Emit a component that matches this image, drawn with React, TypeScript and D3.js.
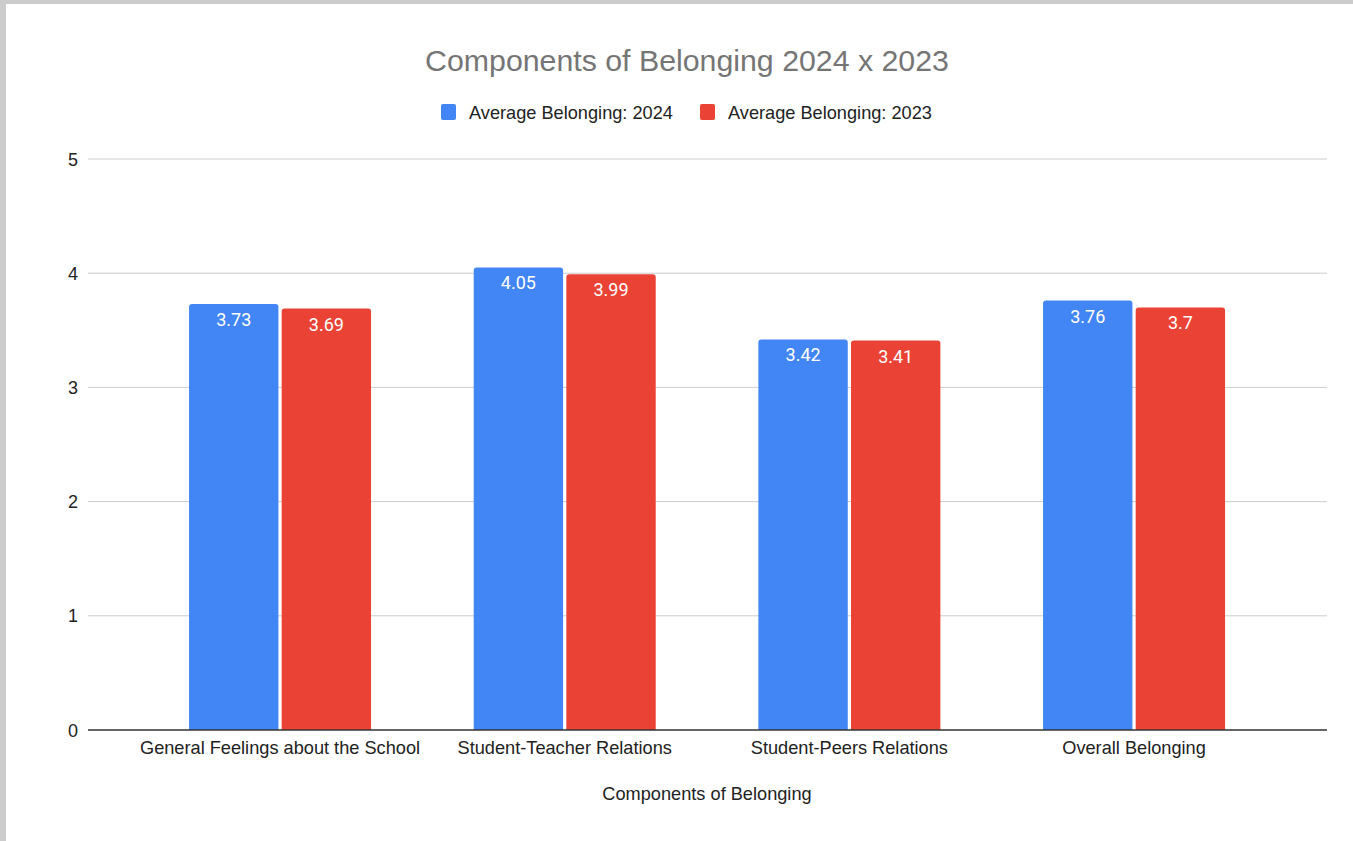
import React from "react";
import * as d3 from "d3";

const categories = [
  "General Feelings about the School",
  "Student-Teacher Relations",
  "Student-Peers Relations",
  "Overall Belonging",
];
const values2024 = [3.73, 4.05, 3.42, 3.76];
const values2023 = [3.69, 3.99, 3.41, 3.7];
const seriesNames = ["Average Belonging: 2024", "Average Belonging: 2023"];
const seriesColors = ["#4285F4", "#EA4335"];
const yTicks = [0, 1, 2, 3, 4, 5];

const W = 1353;
const H = 841;
const plotLeft = 88;
const plotRight = 1327;
const plotTop = 159;
const plotBottom = 730;

export default function App() {
  const y = d3.scaleLinear().domain([0, 5]).range([plotBottom, plotTop]);
  const x = d3.scaleBand<string>().domain(categories).range([137.7, 1276.4]).paddingInner(0).paddingOuter(0);
  const inner = d3.scaleBand<number>().domain([0, 1]).range([0, 182]).paddingInner(0.035);
  const series = [values2024, values2023];
  const bw = inner.bandwidth();
  const arial = "Arial, 'Liberation Sans', sans-serif";

  return (
    <div style={{ position: "absolute", left: 0, top: 0 }}>
      <svg width={W} height={H} style={{ display: "block" }}>
        <rect x={0} y={0} width={W} height={H} fill="#cccccc" />
        <rect x={6} y={4} width={W - 6} height={H - 4} fill="#ffffff" />
        <text x={687} y={71} textAnchor="middle" fontFamily={arial} fontSize={30.3} fill="#757575">
          Components of Belonging 2024 x 2023
        </text>
        {/* legend */}
        {seriesNames.map((n, i) => {
          const lx = i === 0 ? 441 : 700;
          return (
            <g key={n}>
              <rect x={lx} y={104} width={15} height={16} rx={2} fill={seriesColors[i]} />
              <text x={lx + 28} y={118.5} fontFamily={arial} fontSize={18.2} fill="#222222">
                {n}
              </text>
            </g>
          );
        })}
        {/* grid */}
        {yTicks.map((t) => (
          <g key={t}>
            {t > 0 && (
              <line x1={plotLeft} x2={plotRight} y1={y(t)} y2={y(t)} stroke="#cccccc" strokeWidth={1} />
            )}
            <text x={78} y={y(t) + 6.5} textAnchor="end" fontFamily={arial} fontSize={18} fill="#222222">
              {t}
            </text>
          </g>
        ))}
        {/* bars */}
        {categories.map((c, ci) => {
          const cx = (x(c) as number) + x.bandwidth() / 2;
          const gx = cx - 91;
          return (
            <g key={c}>
              {series.map((vals, si) => {
                const v = vals[ci];
                const bx = gx + (inner(si) as number);
                const top = y(v);
                const h = plotBottom - top;
                const r = 3;
                const path = `M${bx},${plotBottom} L${bx},${top + r} Q${bx},${top} ${bx + r},${top} L${bx + bw - r},${top} Q${bx + bw},${top} ${bx + bw},${top + r} L${bx + bw},${plotBottom} Z`;
                return (
                  <g key={si}>
                    <path d={path} fill={seriesColors[si]} />
                    {h > 0 && (
                      <text
                        x={bx + bw / 2}
                        y={top + 22}
                        textAnchor="middle"
                        fontFamily="Roboto, Arial, sans-serif"
                        fontSize={18}
                        fill="#ffffff"
                      >
                        {String(v)}
                      </text>
                    )}
                  </g>
                );
              })}
              <text x={cx} y={753.5} textAnchor="middle" fontFamily={arial} fontSize={18.2} fill="#222222">
                {c}
              </text>
            </g>
          );
        })}
        <line x1={plotLeft} x2={plotRight} y1={plotBottom} y2={plotBottom} stroke="#333333" strokeWidth={1.5} />
        <text x={707} y={799.5} textAnchor="middle" fontFamily={arial} fontSize={18.2} fill="#222222">
          Components of Belonging
        </text>
      </svg>
    </div>
  );
}
